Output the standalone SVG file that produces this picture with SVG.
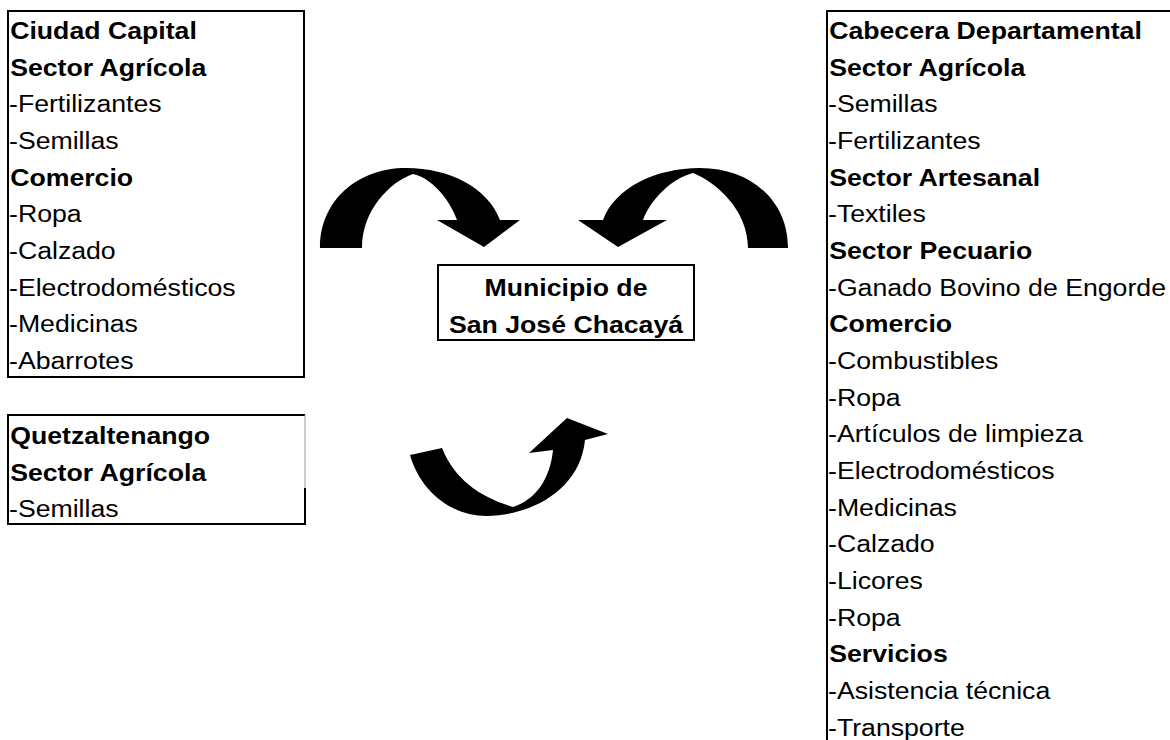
<svg xmlns="http://www.w3.org/2000/svg" width="1170" height="740" viewBox="0 0 1170 740">
<style>
.t{font-family:"Liberation Sans",Arial,sans-serif;font-size:23px;fill:#000}
.b{font-weight:bold}
.box{fill:none;stroke:#000;stroke-width:2}
.arr{fill:#000;stroke:none}
</style>
<rect width="1170" height="740" fill="#fff"/>
<g id="ciudad-capital">
<rect class="box" x="8" y="11" width="296" height="366"/>
<g transform="translate(9 0) scale(1.16 1)">
<text class="t b" x="1" y="39">Ciudad Capital</text>
<text class="t b" x="1" y="76">Sector Agrícola</text>
<text class="t" x="0" y="112">-Fertilizantes</text>
<text class="t" x="0" y="149">-Semillas</text>
<text class="t b" x="1" y="186">Comercio</text>
<text class="t" x="0" y="222">-Ropa</text>
<text class="t" x="0" y="259">-Calzado</text>
<text class="t" x="0" y="296">-Electrodomésticos</text>
<text class="t" x="0" y="332">-Medicinas</text>
<text class="t" x="0" y="369">-Abarrotes</text>
</g>
</g>
<g id="quetzaltenango">
<path class="box" d="M305,415 H8 V524 H305 V488"/>
<path d="M305,415 V488" stroke="#999" stroke-width="1" fill="none"/>
<g transform="translate(9 0) scale(1.16 1)">
<text class="t b" x="1" y="444">Quetzaltenango</text>
<text class="t b" x="1" y="481">Sector Agrícola</text>
<text class="t" x="0" y="517">-Semillas</text>
</g>
</g>
<g id="municipio">
<rect class="box" x="438" y="265" width="256" height="75"/>
<g transform="translate(566 0) scale(1.16 1)">
<text class="t b" x="0" y="296" text-anchor="middle">Municipio de</text>
<text class="t b" x="0" y="333" text-anchor="middle">San José Chacayá</text>
</g>
</g>
<g id="cabecera-departamental">
<path class="box" d="M1170,11 H827 V740"/>
<g transform="translate(828 0) scale(1.16 1)">
<text class="t b" x="1" y="39">Cabecera Departamental</text>
<text class="t b" x="1" y="76">Sector Agrícola</text>
<text class="t" x="0" y="112">-Semillas</text>
<text class="t" x="0" y="149">-Fertilizantes</text>
<text class="t b" x="1" y="186">Sector Artesanal</text>
<text class="t" x="0" y="222">-Textiles</text>
<text class="t b" x="1" y="259">Sector Pecuario</text>
<text class="t" x="0" y="296">-Ganado Bovino de Engorde</text>
<text class="t b" x="1" y="332">Comercio</text>
<text class="t" x="0" y="369">-Combustibles</text>
<text class="t" x="0" y="406">-Ropa</text>
<text class="t" x="0" y="442">-Artículos de limpieza</text>
<text class="t" x="0" y="479">-Electrodomésticos</text>
<text class="t" x="0" y="516">-Medicinas</text>
<text class="t" x="0" y="552">-Calzado</text>
<text class="t" x="0" y="589">-Licores</text>
<text class="t" x="0" y="626">-Ropa</text>
<text class="t b" x="1" y="662">Servicios</text>
<text class="t" x="0" y="699">-Asistencia técnica</text>
<text class="t" x="0" y="736">-Transporte</text>
</g>
</g>
<g id="connectors">
<path class="arr" d="M320,248 C320,200 358,168 406,168 C450,168 488,188 500,220 L520,220 L484,247 L437,220 L457,220 C450,200 432,178 413,174 C390,182 362,210 362,248 Z"/>
<path class="arr" d="M788,248 C788,200 750,168 700,168 C655,168 615,188 603,220 L578,220 L618,247 L667,220 L643,220 C650,200 672,178 693,173 C716,182 748,210 748,248 Z"/>
<path class="arr" d="M410,455 C420,490 450,516 487,516 C532,515 580,490 585,440 L608,434 L567,418 L529,453 L553,450 C550,480 535,500 513,507 C480,497 455,480 442,448 Z"/>
</g>
</svg>
